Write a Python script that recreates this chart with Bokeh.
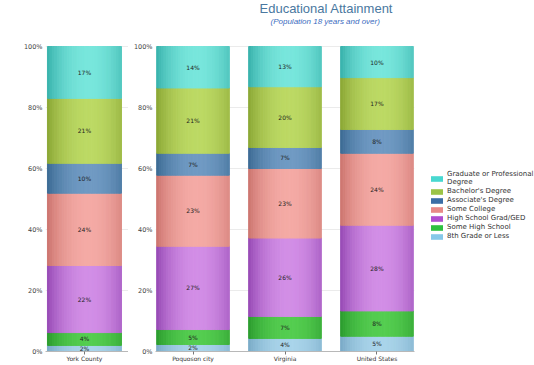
import math
from bokeh.plotting import figure
from bokeh.layouts import row
from bokeh.models import (Range1d, FixedTicker, PrintfTickFormatter, Label,
                          Legend, LegendItem, ColumnDataSource)
from bokeh.core.properties import value
from bokeh.embed import file_html
from bokeh.resources import INLINE

# ---------------- data ----------------
categories = ["York County", "Poquoson city", "Virginia", "United States"]
levels = ["8th Grade or Less", "Some High School", "High School Grad/GED",
          "Some College", "Associate's Degree", "Bachelor's Degree",
          "Graduate or Professional Degree"]
eighth_grade = [2.0, 2.3, 4.3, 5.0]
some_high_school = [4.2, 4.9, 7.2, 8.3]
high_school_grad = [22.0, 27.3, 25.7, 28.1]
some_college = [23.7, 23.3, 22.8, 23.6]
associates = [9.8, 7.2, 6.9, 7.8]
bachelors = [21.3, 21.4, 19.9, 17.0]
graduate = [17.0, 13.6, 13.2, 10.2]
series = [eighth_grade, some_high_school, high_school_grad, some_college,
          associates, bachelors, graduate]
y_ticks = [0, 20, 40, 60, 80, 100]
title_text = "Educational Attainment"
subtitle_text = "(Population 18 years and over)"

# ---------------- styles ----------------
edge_colors = ["#78a9c6", "#2a9a2d", "#9447b3", "#cb736d", "#3a6992", "#89a533", "#36b0aa"]
center_colors = ["#a9d4ea", "#54cd50", "#d28ee6", "#f4aaa5", "#709ac3", "#bcd964", "#78e6dc"]
legend_colors = ["#86c8e8", "#2ec040", "#b04ed0", "#e88a88", "#3b6ea6", "#9cc447", "#48d8d0"]
legend_labels = ["8th Grade or Less", "Some High School", "High School Grad/GED",
                 "Some College", "Associate's Degree", "Bachelor's Degree",
                 "Graduate or Professional\nDegree"]
W = 0.79
K = 30
FONT = "DejaVu Sans"
H = 365
BOTTOM = 14
FRAME_H = H - BOTTOM          # 351 px
PLOT_H = 305                  # px between 0% and 100%
Y_MAX = 100 * FRAME_H / PLOT_H  # extra room above 100% for the titles


def hx(c):
    c = c.lstrip("#")
    return [int(c[i:i + 2], 16) for i in (0, 2, 4)]


def blend(c1, c2, s):
    a, b = hx(c1), hx(c2)
    return "#%02x%02x%02x" % tuple(int(round(a[i] + (b[i] - a[i]) * s)) for i in range(3))


def draw_bars(p, cols):
    src = dict(left=[], right=[], bottom=[], top=[], color=[])
    lab = dict(x=[], y=[], text=[])
    for i, col in enumerate(cols):
        bottom = 0.0
        for j, vals in enumerate(series):
            v = vals[col]
            for k in range(K):
                t = (k + 0.5) / K
                s = max(0.0, 1 - ((t - 0.56) / 0.56) ** 2)
                s = s ** 0.9
                l = i - W / 2 + k * W / K
                src["left"].append(l)
                src["right"].append(l + W / K)
                src["bottom"].append(bottom)
                src["top"].append(bottom + v)
                src["color"].append(blend(edge_colors[j], center_colors[j], s))
            lab["x"].append(i)
            lab["y"].append(bottom + v / 2)
            lab["text"].append(f"{v:.0f}%")
            bottom += v
    p.quad(left="left", right="right", bottom="bottom", top="top",
           fill_color="color", line_color="color", line_width=1,
           source=ColumnDataSource(src))
    p.text(x="x", y="y", text="text", source=ColumnDataSource(lab),
           text_font=value(FONT), text_font_size="6px", text_color="#1e1e1e",
           text_align="center", text_baseline="middle")


def style(p, names):
    p.outline_line_color = None
    p.xgrid.grid_line_color = None
    p.ygrid.grid_line_color = "#ebebeb"
    p.ygrid.ticker = FixedTicker(ticks=y_ticks)
    p.yaxis.ticker = FixedTicker(ticks=y_ticks)
    p.yaxis.formatter = PrintfTickFormatter(format="%d%%")
    p.yaxis.axis_line_color = None
    p.yaxis.major_tick_line_color = None
    p.yaxis.major_tick_out = 0
    p.yaxis.major_tick_in = 0
    p.yaxis.minor_tick_line_color = None
    p.yaxis.minor_tick_out = 0
    p.yaxis.major_label_standoff = 3
    p.yaxis.major_label_text_font = FONT
    p.yaxis.major_label_text_font_size = "6.5px"
    p.yaxis.major_label_text_color = "#444444"
    p.yaxis.axis_label = None
    p.xaxis.axis_label = None
    p.xaxis.axis_label_standoff = 0
    p.xaxis.ticker = FixedTicker(ticks=list(range(len(names))))
    p.xaxis.major_label_overrides = {i: n for i, n in enumerate(names)}
    p.xaxis.axis_line_color = "#b8b8b8"
    p.xaxis.major_tick_line_color = "#777777"
    p.xaxis.major_tick_out = 3
    p.xaxis.major_tick_in = 0
    p.xaxis.minor_tick_line_color = None
    p.xaxis.major_label_standoff = 0
    p.xaxis.major_label_text_font = FONT
    p.xaxis.major_label_text_font_size = "6px"
    p.xaxis.major_label_text_color = "#333333"


# ---------------- left panel ----------------
p1 = figure(width=128, height=H, output_backend="svg", toolbar_location=None,
            x_range=Range1d(-0.416, 0.470), y_range=Range1d(0, Y_MAX),
            min_border_left=45, min_border_right=0, min_border_top=0,
            min_border_bottom=BOTTOM)
p1.title.text = ""
draw_bars(p1, [0])
style(p1, categories[:1])

# ---------------- right panel ----------------
p2 = figure(width=292, height=H, output_backend="svg", toolbar_location=None,
            x_range=Range1d(-0.408, 2.408), y_range=Range1d(0, Y_MAX),
            min_border_left=27, min_border_right=6, min_border_top=0,
            min_border_bottom=BOTTOM)
p2.title.text = ""
draw_bars(p2, [1, 2, 3])
style(p2, categories[1:])
p2.add_layout(Label(x=104, y=FRAME_H - 7.5, x_units="screen", y_units="screen",
                    text=title_text, text_font="Liberation Sans",
                    text_font_size="13px", text_color="#4a78a0",
                    text_baseline="middle", text_align="left"))
p2.add_layout(Label(x=115, y=FRAME_H - 21, x_units="screen", y_units="screen",
                    text=subtitle_text, text_font="Liberation Sans",
                    text_font_size="8px", text_font_style="italic",
                    text_color="#3b6cc0", text_baseline="middle",
                    text_align="left"))

# ---------------- legend panel ----------------
p3 = figure(width=114, height=H, output_backend="svg", toolbar_location=None,
            x_range=Range1d(0, 1), y_range=Range1d(0, 1),
            x_axis_type=None, y_axis_type=None,
            min_border_left=0, min_border_right=0, min_border_top=0,
            min_border_bottom=0)
p3.title.visible = False
p3.outline_line_color = None
p3.grid.visible = False
nan = [math.nan] * len(levels)
leg_src = ColumnDataSource(dict(left=nan, right=nan, bottom=nan, top=nan,
                                color=legend_colors))
r = p3.quad(left="left", right="right", bottom="bottom", top="top",
            fill_color="color", line_color=None, source=leg_src)
items = [LegendItem(label=legend_labels[j], renderers=[r], index=j)
         for j in reversed(range(len(levels)))]
legend = Legend(items=items, location=(9, 111), padding=0, margin=0,
                spacing=1, glyph_width=15, glyph_height=7, label_height=7,
                label_standoff=3, label_text_font=FONT,
                label_text_font_size="7px", label_text_color="#333333",
                border_line_color=None, background_fill_alpha=0)
p3.add_layout(legend)

layout = row(p1, p2, p3)
open("out.html", "w").write(file_html(layout, INLINE))
